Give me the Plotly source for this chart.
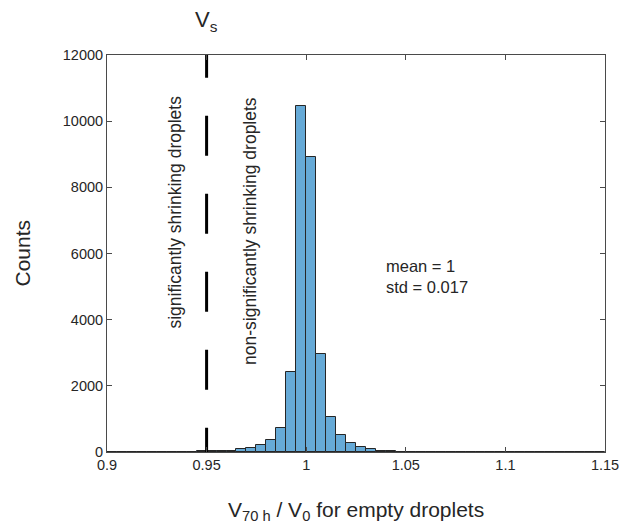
import plotly.graph_objects as go

# ---- data ----
bin_start = 0.9
bin_width = 0.005
counts = [10, 10, 12, 10, 12, 10, 12, 15, 15, 30,
          20, 25, 45, 90, 120, 210, 363, 725, 2420, 10460,
          8920, 2960, 1060, 515, 272, 150, 80, 40, 20, 15,
          12, 10, 8, 8, 6, 5, 5, 4, 3, 3,
          2, 2, 1, 1, 1, 1, 0, 0, 0, 0]
x_ticks = [0.9, 0.95, 1.0, 1.05, 1.1, 1.15]
x_tick_labels = ["0.9", "0.95", "1", "1.05", "1.1", "1.15"]
y_ticks = [0, 2000, 4000, 6000, 8000, 10000, 12000]
y_tick_labels = ["0", "2000", "4000", "6000", "8000", "10000", "12000"]
vs_value = 0.95
mean_text = "mean = 1"
std_text = "std = 0.017"

centers = [bin_start + bin_width * (i + 0.5) for i in range(len(counts))]

FONT = "Liberation Sans, Arial, sans-serif"
AXC = "#4a4a4a"
TXT = "#262626"

fig = go.Figure()
fig.add_trace(go.Bar(
    x=centers, y=counts, width=bin_width,
    marker=dict(color="#66aad7", line=dict(color="#262626", width=1)),
    showlegend=False, hoverinfo="skip"))

# dashed V_s line (extends slightly above the axis so the dash phase matches)
fig.add_trace(go.Scatter(
    x=[vs_value, vs_value], y=[12520, 0], mode="lines",
    line=dict(color="black", width=3, dash="40px,38px"),
    showlegend=False, hoverinfo="skip"))

axis_common = dict(showline=True, linecolor=AXC, linewidth=1, mirror="ticks",
                   ticks="inside", ticklen=5, tickcolor=AXC, tickwidth=1,
                   showgrid=False, zeroline=False, automargin=False,
                   tickfont=dict(family=FONT, size=14.5, color=TXT))

fig.update_layout(
    width=624, height=528,
    margin=dict(l=107, r=19, t=55, b=76),
    paper_bgcolor="white", plot_bgcolor="white",
    bargap=0,
    xaxis=dict(range=[0.9, 1.15], tickvals=x_ticks, ticktext=x_tick_labels, **axis_common),
    yaxis=dict(range=[0, 12000], tickvals=y_ticks, ticktext=y_tick_labels, **axis_common),
    font=dict(family=FONT, color=TXT),
)

annos = [
    dict(x=vs_value, y=1, xref="x", yref="paper", yanchor="bottom", yshift=18,
         text="V<sub>s</sub>", showarrow=False, font=dict(size=22, color=TXT)),
    dict(x=0.5, y=0, xref="paper", yref="paper", yanchor="top", yshift=-44,
         text="V<sub>70 h</sub> / V<sub>0</sub> for empty droplets", showarrow=False,
         font=dict(size=21, color=TXT)),
    dict(x=0, y=0.5, xref="paper", yref="paper", xanchor="center", xshift=-85,
         text="Counts", textangle=-90, showarrow=False, font=dict(size=21, color=TXT)),
    dict(x=0.934, y=0.605, xref="x", yref="paper", xanchor="center", yanchor="middle",
         text="significantly shrinking droplets", textangle=-90, showarrow=False,
         font=dict(size=17.5, color=TXT)),
    dict(x=0.9718, y=0.557, xref="x", yref="paper", xanchor="center", yanchor="middle",
         text="non-significantly shrinking droplets", textangle=-90, showarrow=False,
         font=dict(size=17.5, color=TXT)),
    dict(x=1.039, y=5300, xref="x", yref="y", xanchor="left", yanchor="middle",
         text=mean_text + "<br>" + std_text, align="left", showarrow=False,
         font=dict(size=16.5, color=TXT)),
]
fig.update_layout(annotations=annos)

fig.write_html("out.html", config={"displayModeBar": False},
               post_script="document.body.style.margin='0';document.body.style.padding='0';")
